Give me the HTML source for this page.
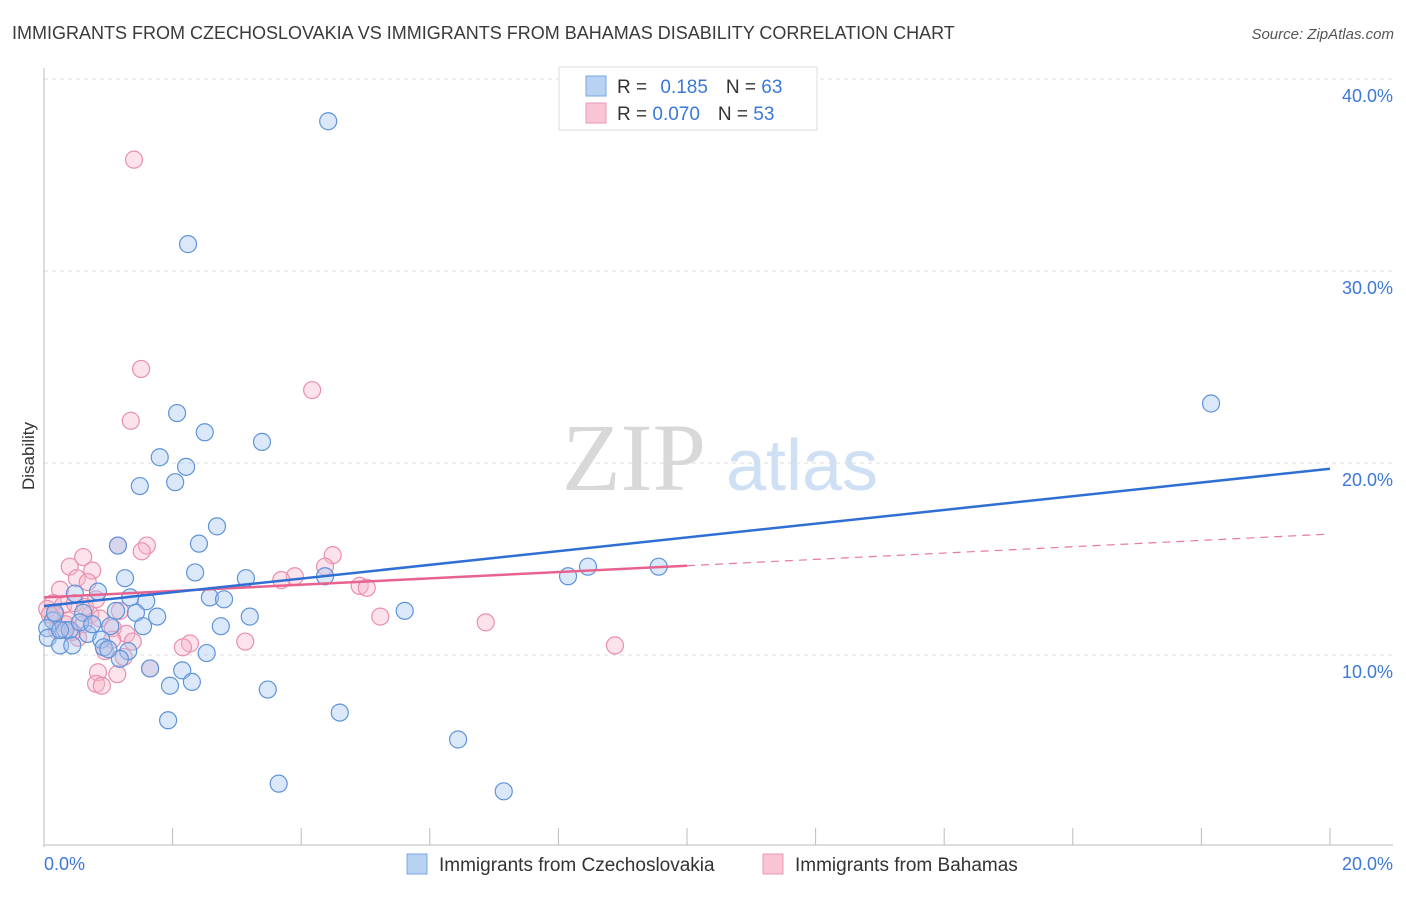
<!DOCTYPE html>
<html><head><meta charset="utf-8"><style>
body{margin:0;background:#fff;font-family:"Liberation Sans",sans-serif}
</style></head><body>
<svg width="1406" height="892" xmlns="http://www.w3.org/2000/svg" style="font-family:'Liberation Sans',sans-serif">
<text x="12" y="39" font-size="18" fill="#3a3a3a">IMMIGRANTS FROM CZECHOSLOVAKIA VS IMMIGRANTS FROM BAHAMAS DISABILITY CORRELATION CHART</text>
<text x="1394" y="39" font-size="15" fill="#555" font-style="italic" text-anchor="end">Source: ZipAtlas.com</text>
<g>
<text x="634" y="490" font-size="96" fill="#d8d8d8" font-family="'Liberation Serif',serif" text-anchor="middle">ZIP</text>
<text x="802" y="490" font-size="72" fill="#cfe0f4" text-anchor="middle">atlas</text>
</g>
<g id="grid"></g>
<g id="axes"></g>
<g id="pts"></g>
<g id="lines"></g>
<text transform="translate(34,456) rotate(-90)" font-size="17" fill="#333" text-anchor="middle">Disability</text>
<g>
<rect x="559" y="67" width="258" height="63" fill="#fff" stroke="#ddd"/>
<rect x="586" y="76" width="20" height="20" fill="#b8d2f4" stroke="#7aa6e0"/>
<rect x="586" y="103" width="20" height="20" fill="#f9c4d4" stroke="#eb9ab4"/>
<text x="617" y="93" font-size="19" fill="#333">R = <tspan fill="#3b78d8" dx="8">0.185</tspan><tspan dx="18">N = </tspan><tspan fill="#3b78d8">63</tspan></text>
<text x="617" y="120" font-size="19" fill="#333">R = <tspan fill="#3b78d8">0.070</tspan><tspan dx="18">N = </tspan><tspan fill="#3b78d8">53</tspan></text>
</g>
<g>
<rect x="407" y="854" width="20" height="20" fill="#b8d2f4" stroke="#7aa6e0"/>
<text x="439" y="871" font-size="19" fill="#333">Immigrants from Czechoslovakia</text>
<rect x="763" y="854" width="20" height="20" fill="#f9c4d4" stroke="#eb9ab4"/>
<text x="795" y="871" font-size="19" fill="#333">Immigrants from Bahamas</text>
</g>
</svg>
<script>
const yTicks=[10,20,30,40];
const yTickLabels=["10.0%","20.0%","30.0%","40.0%"];
const xTicks=[0,2,4,6,8,10,12,14,16,18,20];
const blueX=[4.42,2.24,18.15,2.07,2.50,3.39,1.80,2.21,1.49,2.04,2.69,2.41,1.15,8.46,9.56,8.15,1.26,2.35,3.14,4.37,0.48,0.84,1.34,1.59,2.58,2.80,5.61,0.61,1.12,1.43,1.76,3.20,0.14,0.05,0.33,0.40,0.68,1.54,2.75,1.03,0.89,0.06,0.25,0.44,0.93,1.31,2.53,1.18,1.65,2.15,1.96,2.30,3.48,4.60,1.93,6.44,3.65,7.15,0.25,0.56,1.00,0.17,0.75];
const blueY=[37.8,31.4,23.1,22.6,21.6,21.1,20.3,19.8,18.8,19.0,16.7,15.8,15.7,14.6,14.6,14.1,14.0,14.3,14.0,14.1,13.2,13.3,13.0,12.8,13.0,12.9,12.3,12.2,12.3,12.2,12.0,12.0,11.8,11.4,11.3,11.3,11.1,11.5,11.5,11.5,10.8,10.9,10.5,10.5,10.4,10.2,10.1,9.8,9.3,9.2,8.4,8.6,8.2,7.0,6.6,5.6,3.3,2.9,11.3,11.7,10.3,12.2,11.6];
const pinkX=[1.40,1.51,4.17,1.35,1.15,1.60,0.61,1.52,4.49,0.40,0.75,4.37,0.51,0.68,3.90,3.69,4.91,5.02,0.25,0.14,0.30,0.48,0.72,5.23,6.87,0.05,0.17,0.37,0.61,0.87,1.07,1.28,0.53,1.06,1.38,2.27,3.13,2.16,8.88,0.95,1.24,1.65,0.84,1.14,0.81,0.90,0.09,0.33,0.20,0.44,0.64,0.81,1.18];
const pinkY=[35.8,24.9,23.8,22.2,15.7,15.7,15.1,15.4,15.2,14.6,14.4,14.6,14.0,13.8,14.1,13.9,13.6,13.5,13.4,12.7,12.6,12.7,12.1,12.0,11.7,12.4,12.1,11.8,11.6,11.9,11.4,11.1,10.9,10.8,10.7,10.6,10.7,10.4,10.5,10.2,9.9,9.3,9.1,9.0,8.5,8.4,12.1,11.6,11.3,11.2,12.5,12.9,12.3];
const blueTrend=[12.55,19.7];
const pinkTrend=[13.0,16.3];
const pinkSolidEnd=10;
const NS="http://www.w3.org/2000/svg";
const xs=v=>44+v*64.3, ys=v=>847-v*19.2;
function mk(tag,attrs,parent){const e=document.createElementNS(NS,tag);for(const k in attrs)e.setAttribute(k,attrs[k]);parent.appendChild(e);return e;}
const grid=document.getElementById('grid'),axes=document.getElementById('axes'),pts=document.getElementById('pts'),lines=document.getElementById('lines');
yTicks.forEach((t,i)=>{
 const l=mk('line',{x1:44,x2:1393,y1:ys(t),y2:ys(t),stroke:'#ddd','stroke-dasharray':'4,4'},grid);
 
 
 const tx=mk('text',{x:1393,y:ys(t)+23,'font-size':18,fill:'#3b78d8','text-anchor':'end'},axes);
 tx.textContent=yTickLabels[i];
 
 
});
let a=mk('line',{x1:44,x2:44,y1:68,y2:847,stroke:'#bbb'},axes);


a=mk('line',{x1:44,x2:1393,y1:845,y2:845,stroke:'#bbb'},axes);


xTicks.forEach(t=>{if(t===0)return;
 const l=mk('line',{x1:xs(t),x2:xs(t),y1:828,y2:845,stroke:'#bbb'},axes);
 
 
});
let t0=mk('text',{x:44,y:870,'font-size':18,fill:'#3b78d8'},axes);t0.textContent='0.0%';


let t1=mk('text',{x:1393,y:870,'font-size':18,fill:'#3b78d8','text-anchor':'end'},axes);t1.textContent='20.0%';


function drawPts(X,Y,fill,stroke,name){X.forEach((x,i)=>{
 const c=mk('circle',{cx:xs(x),cy:ys(Y[i]),r:8.5,fill:fill,stroke:stroke,'stroke-width':1.2},pts);
 
 
});}
drawPts(pinkX,pinkY,'rgba(248,182,202,0.4)','#e890ac','bahamas-point');
drawPts(blueX,blueY,'rgba(164,198,240,0.4)','#5f93da','czechoslovakia-point');
const py=x=>pinkTrend[0]+(pinkTrend[1]-pinkTrend[0])*x/20;
let l=mk('line',{x1:xs(pinkSolidEnd),y1:ys(py(pinkSolidEnd)),x2:xs(20),y2:ys(pinkTrend[1]),stroke:'#e87a9c','stroke-width':1.2,'stroke-dasharray':'8,6'},lines);


l=mk('line',{x1:xs(0),y1:ys(pinkTrend[0]),x2:xs(pinkSolidEnd),y2:ys(py(pinkSolidEnd)),stroke:'#e8628e','stroke-width':2.5},lines);


l=mk('line',{x1:xs(0),y1:ys(blueTrend[0]),x2:xs(20),y2:ys(blueTrend[1]),stroke:'#2f6fd4','stroke-width':2.5},lines);


</script>
</body></html>
